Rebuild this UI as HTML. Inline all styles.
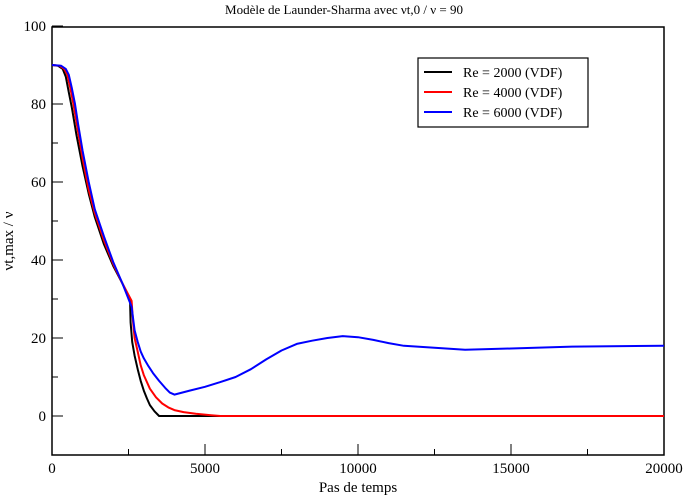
<!DOCTYPE html>
<html><head><meta charset="utf-8"><style>
body{margin:0;background:#fff}
svg text{font-family:"Liberation Serif",serif;fill:#000}
</style></head><body>
<svg id="chart" width="687" height="497" xmlns="http://www.w3.org/2000/svg">
<text x="344" y="14" font-size="13" text-anchor="middle">Modèle de Launder-Sharma avec νt,0 / ν = 90</text>
<rect x="52" y="27" width="612" height="428" fill="none" stroke="#000" stroke-width="1.5"/>
<g id="axes"></g>
<g id="series"></g>
<text x="358" y="492" font-size="15" text-anchor="middle">Pas de temps</text>
<text transform="translate(13,241) rotate(-90)" font-size="15" text-anchor="middle">νt,max / ν</text>
<g>
<rect x="418" y="58" width="170" height="69" fill="#fff" stroke="#000" stroke-width="1.2"/>
<line x1="424" y1="72" x2="452" y2="72" stroke="#000" stroke-width="2"/>
<text x="463" y="77" font-size="14">Re = 2000 (VDF)</text>
<line x1="424" y1="92" x2="452" y2="92" stroke="#f00" stroke-width="2"/>
<text x="463" y="97" font-size="14">Re = 4000 (VDF)</text>
<line x1="424" y1="112" x2="452" y2="112" stroke="#00f" stroke-width="2"/>
<text x="463" y="117" font-size="14">Re = 6000 (VDF)</text>
</g>
</svg>
<script>
const xTicks=[0,5000,10000,15000,20000];
const yTicks=[0,20,40,60,80,100];
const blackX=[0,200,350,450,550,650,800,1000,1200,1400,1700,2000,2300,2550,2570,2620,2700,2800,2900,3000,3100,3200,3350,3500,20000];
const blackY=[90,89.8,89,87,83,79,72,64,57,51,44,38.5,34,30,24,19,15.5,12,9,6.5,4.5,2.8,1.2,0,0];
const redX=[0,250,400,500,600,700,850,1000,1200,1400,1700,2000,2300,2600,2650,2700,2800,2900,3000,3200,3400,3600,3800,4000,4300,4700,5200,5500,20000];
const redY=[90,89.8,89,87.5,84,80,73,66,58,52,45,39,34,29.5,24,20,16.5,13,10.5,7,4.8,3.2,2.2,1.5,1,0.6,0.2,0,0];
const blueX=[0,300,450,550,650,750,850,1000,1200,1400,1700,2000,2300,2600,2650,2700,2800,2900,3000,3150,3300,3500,3700,3850,4000,4500,5000,5500,6000,6500,7000,7500,8000,8500,9000,9500,10000,10500,11000,11500,12500,13500,15000,17000,20000];
const blueY=[90,89.8,89,87.5,84,80,75,68,60,53,46,39.5,34,28,25,22,19,16.5,14.8,12.8,11,9,7.2,6,5.5,6.5,7.5,8.7,10,12,14.5,16.8,18.5,19.3,20,20.5,20.2,19.5,18.7,18,17.5,17,17.3,17.8,18];
const sx=v=>52+v*(612/20000);
const sy=v=>416-v*3.9;
const NS="http://www.w3.org/2000/svg";
const ax=document.getElementById('axes');
function mk(tag,attrs,parent){const e=document.createElementNS(NS,tag);for(const k in attrs)e.setAttribute(k,attrs[k]);parent.appendChild(e);return e;}
xTicks.forEach(t=>{
  const l=mk('line',{x1:sx(t),x2:sx(t),y1:455,y2:444,stroke:'#000'},ax);
  
  
  const tx=mk('text',{x:sx(t),y:473,'font-size':15,'text-anchor':'middle'},ax);
  tx.textContent=t;
  
  
});
for(let t=2500;t<20000;t+=5000){
  const l=mk('line',{x1:sx(t),x2:sx(t),y1:455,y2:449,stroke:'#000'},ax);
  
  
}
yTicks.forEach(t=>{
  const l=mk('line',{x1:52,x2:63,y1:sy(t),y2:sy(t),stroke:'#000'},ax);
  
  
  const tx=mk('text',{x:46,y:sy(t)+5,'font-size':15,'text-anchor':'end'},ax);
  tx.textContent=t;
  
  
});
for(let t=-10;t<100;t+=20){
  const l=mk('line',{x1:52,x2:58,y1:sy(t),y2:sy(t),stroke:'#000'},ax);
  
  
}
const sg=document.getElementById('series');
function line(xs,ys,color,name){
  const d=xs.map((x,i)=>(i?'L':'M')+sx(x).toFixed(1)+','+sy(ys[i]).toFixed(1)).join('');
  const p=mk('path',{d:d,fill:'none',stroke:color,'stroke-width':2,'stroke-linejoin':'round'},sg);
  
  
}
line(blackX,blackY,'#000','series-re2000');
line(redX,redY,'#f00','series-re4000');
line(blueX,blueY,'#00f','series-re6000');
</script>
</body></html>
